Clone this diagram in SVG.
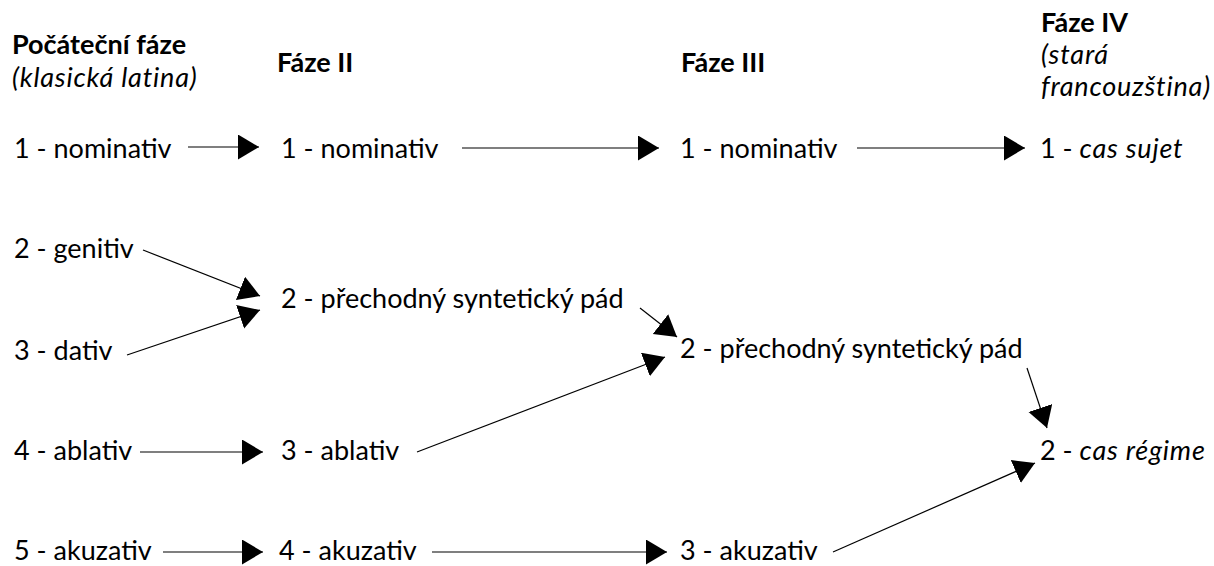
<svg xmlns="http://www.w3.org/2000/svg" width="1214" height="566" viewBox="0 0 1214 566">
<style>
text{font-family:Lato,"Noto Sans","DejaVu Sans",sans-serif;font-size:27px;fill:#000}
.b{font-weight:bold}
.i{font-style:italic;letter-spacing:0.8px}
.c line{stroke:#000;stroke-width:1.2;marker-end:url(#ah)}
</style>
<defs>
<marker id="ah" markerUnits="userSpaceOnUse" markerWidth="22" markerHeight="26" refX="21" refY="12.5" orient="auto" viewBox="0 0 22 26">
<path d="M0,0 L21,12.5 L0,25 z" fill="#000"/>
</marker>
</defs>
<g id="h1"><text class="b" x="12" y="54">Počáteční fáze</text><text class="i" x="12" y="87">(klasická latina)</text></g>
<g id="h2"><text class="b" x="277" y="72">Fáze II</text></g>
<g id="h3"><text class="b" x="681" y="72">Fáze III</text></g>
<g id="h4"><text class="b" x="1041" y="32">Fáze IV</text><text class="i" x="1041" y="64">(stará</text><text class="i" x="1041" y="96">francouzština)</text></g>
<g id="a1"><text x="14" y="158">1 - nominativ</text></g>
<g id="a2"><text x="14" y="258">2 - genitiv</text></g>
<g id="a3"><text x="14" y="360">3 - dativ</text></g>
<g id="a4"><text x="14" y="460">4 - ablativ</text></g>
<g id="a5"><text x="14" y="560">5 - akuzativ</text></g>
<g id="b1"><text x="281" y="158">1 - nominativ</text></g>
<g id="b2"><text x="281" y="308">2 - přechodný syntetický pád</text></g>
<g id="b3"><text x="281" y="460">3 - ablativ</text></g>
<g id="b4"><text x="279" y="560">4 - akuzativ</text></g>
<g id="c1"><text x="680" y="158">1 - nominativ</text></g>
<g id="c2"><text x="680" y="358">2 - přechodný syntetický pád</text></g>
<g id="c3"><text x="680" y="560">3 - akuzativ</text></g>
<g id="d1"><text x="1040" y="158">1 - <tspan class="i">cas sujet</tspan></text></g>
<g id="d2"><text x="1040" y="460">2 - <tspan class="i">cas régime</tspan></text></g>
<g id="connectors" class="c">
<line x1="188" y1="147" x2="259" y2="147"/>
<line x1="462" y1="148" x2="659" y2="148"/>
<line x1="857" y1="148" x2="1025" y2="148"/>
<line x1="143" y1="250" x2="260" y2="296"/>
<line x1="127" y1="355" x2="260" y2="310"/>
<line x1="640" y1="308" x2="677" y2="337"/>
<line x1="417" y1="452" x2="665" y2="357"/>
<line x1="1027" y1="368" x2="1047" y2="428"/>
<line x1="140" y1="452" x2="263" y2="452"/>
<line x1="163" y1="552" x2="263" y2="552"/>
<line x1="432" y1="552" x2="667" y2="552"/>
<line x1="833" y1="552" x2="1035" y2="463"/>
</g>
</svg>
